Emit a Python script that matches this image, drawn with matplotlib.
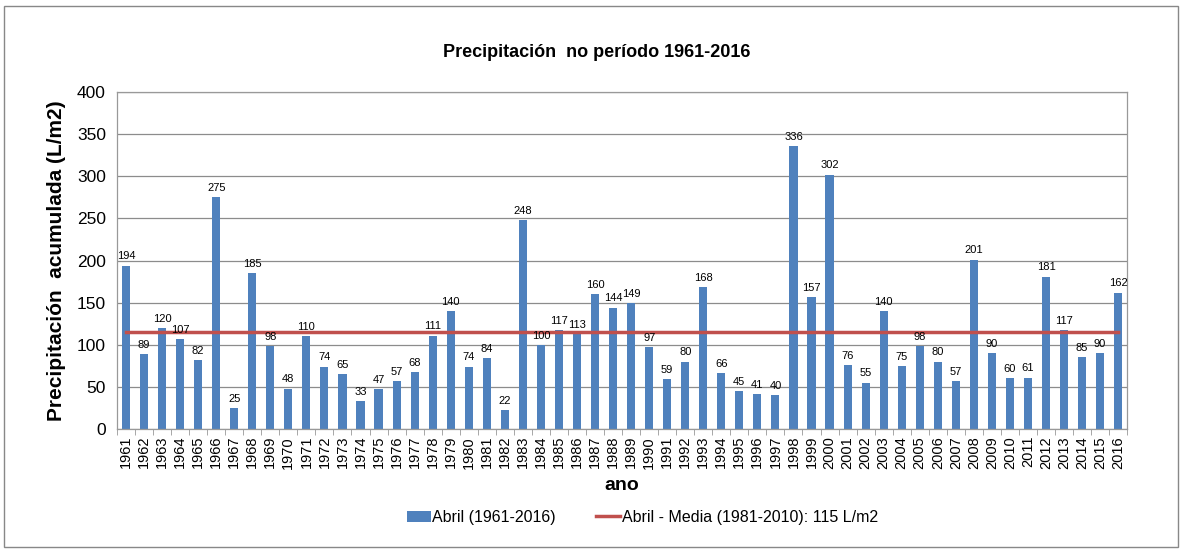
import matplotlib.pyplot as plt
import numpy as np
from matplotlib.patches import Rectangle

plt.rcParams['font.family'] = ['Liberation Sans', 'DejaVu Sans']

# datos
anos = [str(a) for a in range(1961, 2017)]
precip = [194, 89, 120, 107, 82, 275, 25, 185, 98, 48,
          110, 74, 65, 33, 47, 57, 68, 111, 140, 74,
          84, 22, 248, 100, 117, 113, 160, 144, 149, 97,
          59, 80, 168, 66, 45, 41, 40, 336, 157, 302,
          76, 55, 140, 75, 98, 80, 57, 201, 90, 60,
          61, 181, 117, 85, 90, 162]
media = 115

fig = plt.figure(figsize=(11.84, 5.53), dpi=100)
ax = fig.add_axes([0.0988, 0.2242, 0.8532, 0.6094])

x = np.arange(len(anos))
barras = ax.bar(x, precip, width=0.45, color='#4f81bd', label='Abril (1961-2016)', zorder=2)
linea, = ax.plot(x, [media] * len(x), color='#c0504d', lw=2.5,
                 label='Abril - Media (1981-2010): 115 L/m2', zorder=3)

# etiquetas de los valores
for xi, v in zip(x, precip):
    ax.text(xi, v + 5, str(v), ha='center', va='bottom', fontsize=8, zorder=4)

ax.set_xlim(-0.5, len(anos) - 0.5)
ax.set_ylim(0, 400)
ax.set_yticks(np.arange(0, 401, 50))
ax.tick_params(axis='y', labelsize=12.5, length=0, pad=8)
ax.set_xticks(x)
ax.set_xticklabels(anos, rotation=90, fontsize=10.5)
ax.tick_params(axis='x', length=0, pad=5)
ax.set_xticks(np.arange(-0.5, len(anos), 1), minor=True)
ax.tick_params(axis='x', which='minor', length=4, color='#999999', direction='out')

ax.yaxis.grid(True, color='#8c8c8c', lw=0.9, zorder=0)
ax.set_axisbelow(True)
for s in ax.spines.values():
    s.set_color('#999999')
    s.set_linewidth(0.9)

ax.set_ylabel('Precipitación  acumulada (L/m2)', fontsize=15, fontweight='bold', labelpad=8)
ax.set_xlabel('ano', fontsize=14, fontweight='bold', labelpad=6)
fig.text(0.504, 0.905, 'Precipitación  no período 1961-2016', ha='center', va='center',
         fontsize=13, fontweight='bold')

ax.legend([barras, linea], [barras.get_label(), linea.get_label()],
          loc='center', bbox_to_anchor=(0.52, -0.262), ncol=2, frameon=False,
          fontsize=11.5, handlelength=1.5, handletextpad=0.1, columnspacing=2.5)

# marco exterior
fig.patches.append(Rectangle((0.003, 0.01), 0.992, 0.98, transform=fig.transFigure,
                             fill=False, edgecolor='#888888', lw=1))

plt.savefig('out.png', dpi=100)
